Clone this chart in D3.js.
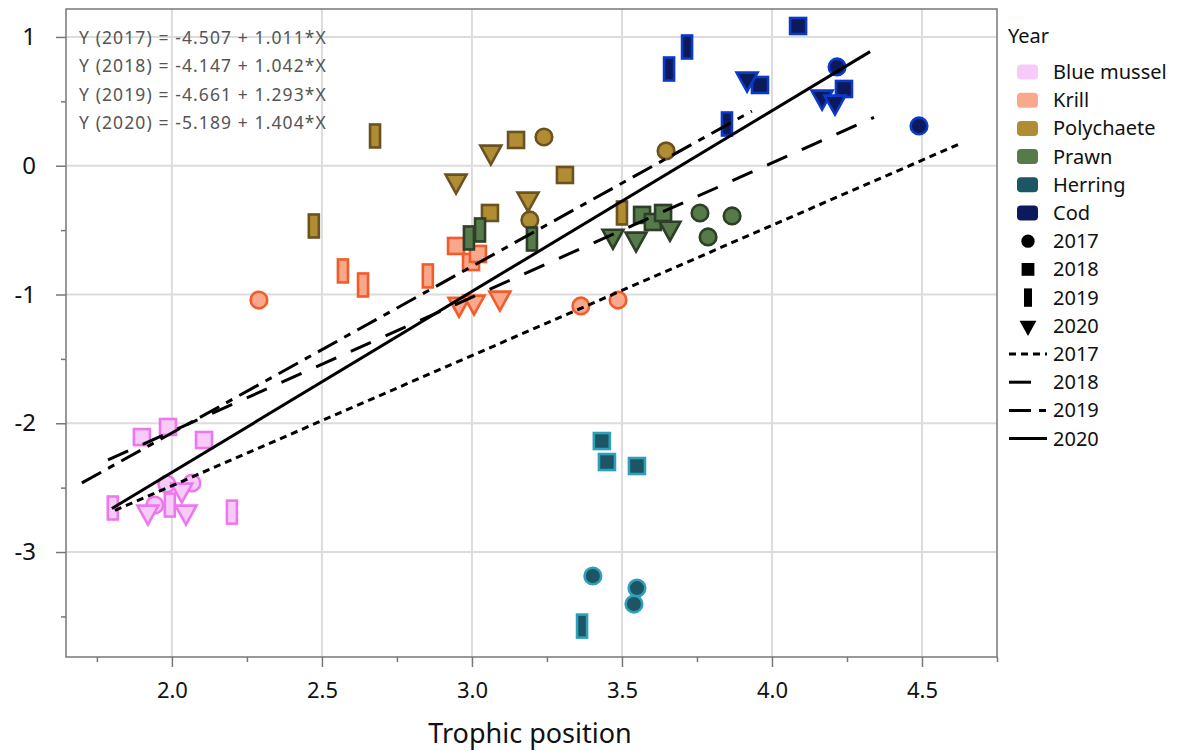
<!DOCTYPE html>
<html><head><meta charset="utf-8">
<script src="https://cdn.jsdelivr.net/npm/d3@7"></script>
<style>body{margin:0;background:#fff} text{font-family:"Noto Sans",sans-serif}</style>
</head><body><svg id="c" width="1179" height="751"></svg>
<script>
const species = ["Blue mussel","Krill","Polychaete","Prawn","Herring","Cod"];
const fillColors = ["#f7cbf7","#f9a88b","#b08d32","#567a4a","#1c5563","#0c1a5b"];
const strokeColors = ["#ee77ee","#f25c2a","#6a5320","#2d3f27","#2fa0ba","#0a3acb"];
const years = ["2017","2018","2019","2020"];
const shapes = ["circle","square","bar","triangle"];
const intercepts = [-4.507,-4.147,-4.661,-5.189];
const slopes = [1.011,1.042,1.293,1.404];
const lineStart = [1.81,1.787,1.70,1.80];
const lineEnd = [4.627,4.34,3.933,4.327];
const dashes = ["7,5","22,16","22,8,7,8",null];
const xTickValues = [2.0,2.5,3.0,3.5,4.0,4.5];
const xMinorValues = [1.75,2.25,2.75,3.25,3.75,4.25,4.75];
const yTickValues = [-3,-2,-1,0,1];
const yMinorValues = [-3.5,-2.5,-1.5,-0.5,0.5];

// points: [trophic position, y, year]
const blueMussel = [
  [1.943,-2.635,"2017"],[1.983,-2.472,"2017"],[2.067,-2.464,"2017"],
  [1.900,-2.107,"2018"],[1.987,-2.029,"2018"],[2.107,-2.130,"2018"],
  [1.803,-2.658,"2019"],[1.993,-2.635,"2019"],[2.200,-2.690,"2019"],
  [1.920,-2.689,"2020"],[2.033,-2.518,"2020"],[2.047,-2.689,"2020"]
];
const krill = [
  [2.290,-1.043,"2017"],[3.363,-1.089,"2017"],[3.487,-1.043,"2017"],
  [2.947,-0.623,"2018"],[2.997,-0.748,"2018"],[3.020,-0.685,"2018"],
  [2.570,-0.817,"2019"],[2.637,-0.926,"2019"],[2.853,-0.856,"2019"],
  [2.957,-1.074,"2020"],[3.007,-1.058,"2020"],[3.093,-1.027,"2020"]
];
const polychaete = [
  [3.240,0.223,"2017"],[3.647,0.115,"2017"],[3.193,-0.421,"2017"],
  [3.147,0.200,"2018"],[3.060,-0.367,"2018"],[3.310,-0.072,"2018"],
  [2.677,0.231,"2019"],[2.473,-0.468,"2019"],[3.500,-0.367,"2019"],
  [2.947,-0.118,"2020"],[3.063,0.107,"2020"],[3.187,-0.258,"2020"]
];
const prawn = [
  [3.760,-0.367,"2017"],[3.867,-0.390,"2017"],[3.787,-0.553,"2017"],
  [3.567,-0.382,"2018"],[3.603,-0.437,"2018"],[3.637,-0.367,"2018"],
  [2.990,-0.561,"2019"],[3.027,-0.499,"2019"],[3.200,-0.569,"2019"],
  [3.470,-0.546,"2020"],[3.547,-0.569,"2020"],[3.660,-0.484,"2020"]
];
const herring = [
  [3.403,-3.186,"2017"],[3.550,-3.280,"2017"],[3.540,-3.404,"2017"],
  [3.433,-2.138,"2018"],[3.450,-2.301,"2018"],[3.550,-2.332,"2018"],
  [3.367,-3.575,"2019"]
];
const cod = [
  [4.217,0.767,"2017"],[4.490,0.309,"2017"],
  [4.087,1.085,"2018"],[3.960,0.627,"2018"],[4.240,0.596,"2018"],
  [3.657,0.751,"2019"],[3.717,0.922,"2019"],[3.850,0.324,"2019"],
  [3.917,0.674,"2020"],[4.167,0.534,"2020"],[4.210,0.495,"2020"]
];
const speciesData = [blueMussel, krill, polychaete, prawn, herring, cod];

const svg = d3.select("#c");
const L = 66, R = 997, T = 9, B = 657;
const x = d3.scaleLinear().domain([1.647, 4.75]).range([L, R]);
const y = d3.scaleLinear().domain([-3.815, 1.217]).range([B, T]);

// grid
const g = svg.append("g");
g.selectAll(".gx").data(xTickValues).join("line")
  .attr("x1", d => x(d)).attr("x2", d => x(d)).attr("y1", T).attr("y2", B)
  .attr("stroke", "#dcdcdc").attr("stroke-width", 2);
g.selectAll(".gy").data(yTickValues).join("line")
  .attr("y1", d => y(d)).attr("y2", d => y(d)).attr("x1", L).attr("x2", R)
  .attr("stroke", "#dcdcdc").attr("stroke-width", 2);

// axes
const axisColor = "#777";
const xAxis = svg.append("g").attr("transform", `translate(0,${B})`)
  .call(d3.axisBottom(x).tickValues(xTickValues).tickSize(10).tickPadding(15).tickFormat(d => d.toFixed(1)));
const xMinor = svg.append("g").attr("transform", `translate(0,${B})`)
  .call(d3.axisBottom(x).tickValues(xMinorValues).tickSize(5).tickFormat(""));
const yAxis = svg.append("g").attr("transform", `translate(${L},0)`)
  .call(d3.axisLeft(y).tickValues(yTickValues).tickSize(10).tickPadding(20).tickFormat(d => String(d)));
const yMinor = svg.append("g").attr("transform", `translate(${L},0)`)
  .call(d3.axisLeft(y).tickValues(yMinorValues).tickSize(5).tickFormat(""));
[xAxis, xMinor, yAxis, yMinor].forEach(a => {
  a.select(".domain").remove();
  a.selectAll(".tick line").attr("stroke", axisColor).attr("stroke-width", 1.5);
});
xAxis.selectAll("text").attr("font-size", 22).attr("fill", "#111").attr("font-family", "Noto Sans");
yAxis.selectAll("text").attr("font-size", 24).attr("fill", "#111").attr("font-family", "Noto Sans");

// frame
svg.append("rect").attr("x", L).attr("y", T).attr("width", R - L).attr("height", B - T)
  .attr("fill", "none").attr("stroke", axisColor).attr("stroke-width", 1.5);

svg.append("text").attr("x", 530).attr("y", 743).attr("text-anchor", "middle")
  .attr("font-size", 27).attr("fill", "#111").text("Trophic position");

// markers
function drawShape(sel, shape, cx, cy, scale) {
  const s = scale || 1;
  if (shape === "circle") {
    return sel.append("circle").attr("cx", cx).attr("cy", cy).attr("r", 8.3 * s);
  } else if (shape === "square") {
    const w = 16 * s;
    return sel.append("rect").attr("x", cx - w / 2).attr("y", cy - w / 2).attr("width", w).attr("height", w);
  } else if (shape === "bar") {
    const w = 10 * s, h = 23 * s;
    return sel.append("rect").attr("x", cx - w / 2).attr("y", cy - h / 2).attr("width", w).attr("height", h);
  } else {
    const w = 21 * s, h = 19 * s;
    const p = d3.path();
    p.moveTo(cx - w / 2, cy - h / 3); p.lineTo(cx + w / 2, cy - h / 3); p.lineTo(cx, cy + 2 * h / 3); p.closePath();
    return sel.append("path").attr("d", p.toString());
  }
}
const mg = svg.append("g");
speciesData.forEach((arr, si) => {
  arr.forEach(d => {
    const shape = shapes[years.indexOf(d[2])];
    drawShape(mg, shape, x(d[0]), y(d[1]))
      .attr("fill", fillColors[si]).attr("stroke", strokeColors[si]).attr("stroke-width", 2.6);
  });
});

// regression lines
const lg = svg.append("g");
years.forEach((yr, i) => {
  const pts = [lineStart[i], lineEnd[i]].map(v => [v, intercepts[i] + slopes[i] * v]);
  lg.append("path")
    .attr("d", d3.line().x(d => x(d[0])).y(d => y(d[1]))(pts))
    .attr("fill", "none").attr("stroke", "#000").attr("stroke-width", 3)
    .attr("stroke-dasharray", dashes[i]);
});

// equations
years.forEach((yr, i) => {
  svg.append("text").attr("x", 79).attr("y", 44 + i * 28.3)
    .attr("font-size", 17.5).attr("letter-spacing", 1.1).attr("fill", "#555")
    .text(`Y (${yr}) = ${intercepts[i].toFixed(3)} + ${slopes[i].toFixed(3)}*X`);
});

// legend
const leg = svg.append("g");
leg.append("text").attr("x", 1008).attr("y", 43).attr("font-size", 20).attr("fill", "#111").text("Year");
const rowY = i => 72 + i * 28.2;
const tx = 1053;
species.forEach((s, i) => {
  leg.append("rect").attr("x", 1017).attr("y", rowY(i) - 7.5).attr("width", 21).attr("height", 15)
    .attr("rx", 4).attr("fill", fillColors[i]);
  leg.append("text").attr("x", tx).attr("y", rowY(i) + 7).attr("font-size", 20).attr("fill", "#111").text(s);
});
years.forEach((yr, i) => {
  const r = 6 + i;
  drawShape(leg, shapes[i], 1028, rowY(r), 0.8).attr("fill", "#000");
  leg.append("text").attr("x", tx).attr("y", rowY(r) + 7).attr("font-size", 20).attr("fill", "#111").text(yr);
});
years.forEach((yr, i) => {
  const r = 10 + i;
  leg.append("line").attr("x1", 1009).attr("x2", 1047).attr("y1", rowY(r)).attr("y2", rowY(r))
    .attr("stroke", "#000").attr("stroke-width", 3).attr("stroke-dasharray", dashes[i]);
  leg.append("text").attr("x", tx).attr("y", rowY(r) + 7).attr("font-size", 20).attr("fill", "#111").text(yr);
});
</script></body></html>
